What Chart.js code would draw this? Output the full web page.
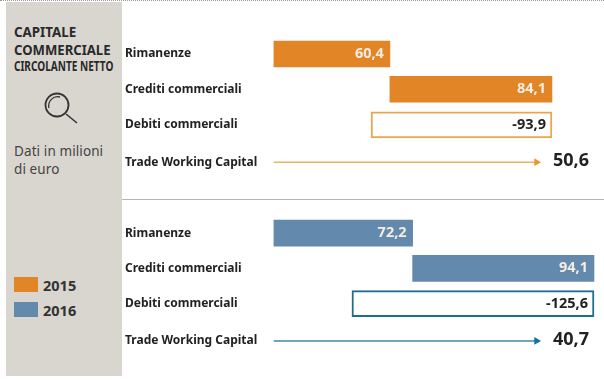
<!DOCTYPE html>
<html lang="it">
<head>
<meta charset="utf-8">
<title>Capitale commerciale circolante netto</title>
<script src="https://cdn.jsdelivr.net/npm/chart.js@4"></script>
<style>
  html, body { margin: 0; padding: 0; background: #fff; }
  #page { position: relative; width: 604px; height: 383px; overflow: hidden; font-family: "Noto Sans", sans-serif; color: #222; }
  #panel { position: absolute; left: 6px; top: 2px; width: 116px; height: 374px; background: #d9d6cf; }
  #rule-top { position: absolute; left: 0; top: 0; width: 604px; border-top: 1px dotted #999; }
  #rule-mid { position: absolute; left: 122px; top: 199px; width: 482px; height: 1px; background: #b5b5b5; }
  #page canvas { position: absolute; left: 0; top: 0; }
  .t { position: absolute; white-space: nowrap; transform-origin: 0 0; }
  .title { font-weight: 700; font-size: 15px; line-height: 18px; color: #2a2a2a; transform: scaleX(.89); }
  .note { font-size: 13.5px; letter-spacing: .1px; color: #444; }
  .swatch { position: absolute; left: 14px; width: 24px; height: 15px; }
  .year { font-weight: 700; font-size: 14.5px; color: #333; left: 43px; }
  #lens { position: absolute; left: 42px; top: 90px; }
</style>
</head>
<body>
<div id="page">
  <div id="panel"></div>
  <div id="rule-top"></div>
  <div id="rule-mid"></div>
  <div class="t title" style="left:14px;top:22px">CAPITALE</div>
  <div class="t title" style="left:14px;top:40px;transform:scaleX(.875)">COMMERCIALE</div>
  <div class="t title" style="left:14px;top:57px;font-size:13.5px;transform:scaleX(.745)">CIRCOLANTE NETTO</div>
  <svg id="lens" width="38" height="36" viewBox="0 0 38 36" fill="none" stroke="#333">
    <circle cx="15" cy="15" r="11.5" stroke-width="1.8"/>
    <path d="M7 18a9 9 0 0 1 11-11" stroke-width="1.3"/>
    <path d="M24 24L35 33" stroke-width="1.6"/>
  </svg>
  <div class="t note" style="left:14px;top:142px">Dati in milioni</div>
  <div class="t note" style="left:14px;top:160px">di euro</div>
  <div id="key"></div>
  <canvas id="chart" width="604" height="383"></canvas>
</div>
<script>
const categories = ['Rimanenze', 'Crediti commerciali', 'Debiti commerciali', 'Trade Working Capital'];
const years = ['2015', '2016'];
const values2015 = [60.4, 84.1, -93.9];
const values2016 = [72.2, 94.1, -125.6];
const totals = [50.6, 40.7];
const fills = ['#e28527', '#6389ad'];
const outlines = ['#e9a650', '#1f6e8c'];
const arrowLines = ['#ecb25f', '#3f8aa6'];
const arrowHeads = ['#e8962f', '#126fa0'];

// Vertical slot of each row on the hidden y axis; the total row sits a little lower.
const rowSlots = [[0, 1, 2.01, 3.07], [5.08, 6.08, 7.08, 8.14]];
// The arrows stop short of the total label and are not drawn to scale.
const arrowEnd = 136.5;

const comma = v => v.toFixed(1).replace('.', ',');

// Each bar floats from the running total left by the previous item.
function waterfall(values, slots) {
  let running = 0;
  return values.map((v, i) => {
    const start = running;
    running += v;
    return { x: [start, running], y: slots[i], value: v };
  });
}

const series = [values2015, values2016];

const barSets = series.map((vals, k) => ({
  type: 'bar',
  label: years[k],
  data: waterfall(vals, rowSlots[k]),
  barThickness: 26,
  grouped: false,
  backgroundColor: ctx => (ctx.raw && ctx.raw.value < 0 ? '#ffffff' : fills[k]),
  borderColor: ctx => (ctx.raw && ctx.raw.value < 0 ? outlines[k] : fills[k]),
  borderWidth: ctx => (ctx.raw && ctx.raw.value < 0 ? 2 : 0),
  borderSkipped: false
}));

const arrowSets = series.map((vals, k) => ({
  type: 'line',
  label: 'Trade Working Capital ' + years[k],
  data: [{ x: 0, y: rowSlots[k][3] }, { x: arrowEnd, y: rowSlots[k][3] }],
  borderColor: arrowLines[k],
  borderWidth: 1.5,
  pointStyle: 'triangle',
  pointRotation: 90,
  pointRadius: [0, 4.5],
  pointBackgroundColor: arrowHeads[k],
  pointBorderWidth: 0
}));

// Writes the amounts inside the bars and the totals after the arrows.
const amountLabels = {
  id: 'amountLabels',
  afterDatasetsDraw(chart) {
    const { ctx, scales: { x, y } } = chart;
    ctx.save();
    ctx.textAlign = 'right';
    ctx.textBaseline = 'middle';
    series.forEach((vals, k) => {
      waterfall(vals, rowSlots[k]).forEach(b => {
        const negative = b.value < 0;
        ctx.font = '700 14.5px "Noto Sans", sans-serif';
        ctx.fillStyle = negative ? '#222222' : '#f6ede2';
        ctx.fillText(comma(b.value), x.getPixelForValue(Math.max(b.x[0], b.x[1])) - 6, y.getPixelForValue(b.y));
      });
      ctx.font = '700 18px "Noto Sans", sans-serif';
      ctx.fillStyle = '#222222';
      ctx.fillText(comma(totals[k]), 589, y.getPixelForValue(rowSlots[k][3]) - 1);
    });
    ctx.restore();
  }
};

const allSlots = rowSlots.flat();
const slotName = new Map(allSlots.map((s, i) => [s, categories[i % categories.length]]));

new Chart(document.getElementById('chart'), {
  data: { datasets: [...barSets, ...arrowSets] },
  plugins: [amountLabels],
  options: {
    indexAxis: 'y',
    responsive: false,
    animation: false,
    layout: { autoPadding: false, padding: { left: 125, right: 0, top: 0, bottom: 0 } },
    plugins: { legend: { display: false }, tooltip: { enabled: false } },
    scales: {
      x: {
        type: 'linear',
        min: 0,
        max: 171.5,
        display: false
      },
      y: {
        type: 'linear',
        reverse: true,
        offset: false,
        min: -1.532,
        max: 9.333,
        grid: { display: false },
        border: { display: false },
        afterFit(scale) {
          scale.width = 148.5;
          // The plot fills the full canvas height.
          scale.paddingTop = 0;
          scale.paddingBottom = 0;
        },
        afterBuildTicks(scale) { scale.ticks = allSlots.map(value => ({ value })); },
        ticks: {
          autoSkip: false,
          crossAlign: 'far',
          color: '#222222',
          font: { family: '"Noto Sans", sans-serif', weight: '700', size: 12 },
          callback: v => slotName.get(v) || ''
        }
      }
    }
  }
});

// Year key in the side panel.
const key = document.getElementById('key');
years.forEach((year, k) => {
  const top = 277 + k * 25;
  key.insertAdjacentHTML('beforeend',
    `<div class="swatch" style="top:${top}px;background:${fills[k]}"></div>` +
    `<div class="t year" style="top:${top - 2}px">${year}</div>`);
});
</script>
</body>
</html>
